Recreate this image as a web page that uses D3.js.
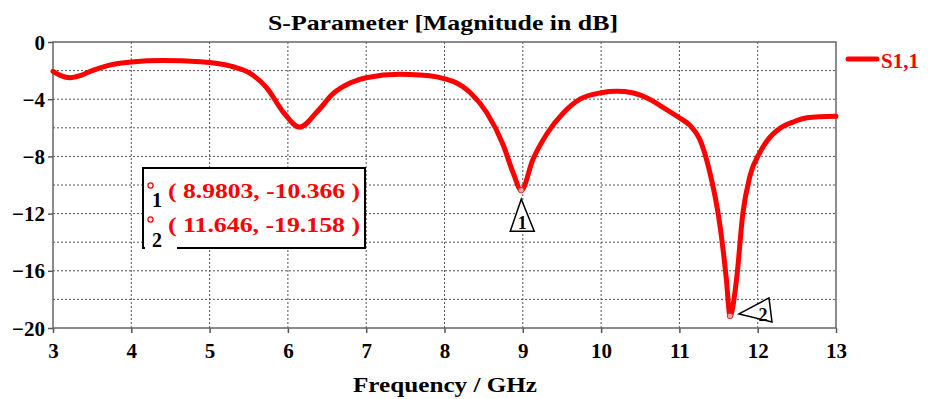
<!DOCTYPE html>
<html>
<head>
<meta charset="utf-8">
<script src="https://cdn.jsdelivr.net/npm/d3@7"></script>
<style>
  html, body { margin: 0; padding: 0; background: #fff; }
  svg { display: block; font-family: "Liberation Serif", "DejaVu Serif", serif; }
</style>
</head>
<body>
<svg id="chart" width="928" height="399"></svg>
<script>
// ---- data ----
const freq = [3.0, 3.1, 3.22, 3.35, 3.5, 3.7, 4.0, 4.4, 4.88, 5.1, 5.3, 5.52, 5.73, 5.94, 6.15, 6.37, 6.58, 6.8, 7.0, 7.43, 7.69, 8.11, 8.33, 8.54, 8.75, 8.88, 8.9803, 9.13, 9.31, 9.52, 9.73, 10.0, 10.2, 10.4, 10.58, 10.8, 11.0, 11.13, 11.26, 11.37, 11.52, 11.6, 11.646, 11.73, 11.81, 11.9, 12.03, 12.12, 12.28, 12.45, 12.63, 13.0];
const s11  = [-2.05, -2.35, -2.5, -2.35, -2.0, -1.65, -1.4, -1.3, -1.38, -1.5, -1.73, -2.2, -3.2, -4.9, -5.95, -4.9, -3.6, -2.85, -2.5, -2.26, -2.3, -2.75, -3.55, -4.95, -7.2, -9.2, -10.366, -8.2, -6.4, -4.95, -4.0, -3.55, -3.45, -3.55, -3.9, -4.6, -5.3, -5.8, -6.8, -8.7, -12.9, -16.6, -19.158, -16.6, -12.0, -9.4, -7.7, -6.9, -6.05, -5.6, -5.3, -5.2];
const xTicks = [3, 4, 5, 6, 7, 8, 9, 10, 11, 12, 13];
const yTicks = [0, -4, -8, -12, -16, -20];
const yGrid = [0, -2, -4, -6, -8, -10, -12, -14, -16, -18, -20];
const markerIds = ["1", "2"];
const markerFreq = [8.9803, 11.646];
const markerVal = [-10.366, -19.158];
const markerLabels = ["( 8.9803, -10.366 )", "( 11.646, -19.158 )"];
const seriesName = "S1,1";
const titleText = "S-Parameter [Magnitude in dB]";
const xTitle = "Frequency / GHz";

// ---- layout ----
const L = 53, R = 836, T = 42, B = 328;
const svg = d3.select("#chart");
const x = d3.scaleLinear().domain([3, 13]).range([L, R]);
const y = d3.scaleLinear().domain([-20, 0]).range([B, T]);
const red = "#ff0000";

// grid
const grid = svg.append("g").attr("stroke", "#555").attr("stroke-width", 1).attr("stroke-dasharray", "2,2");
grid.selectAll("line.v").data(xTicks.slice(1, -1)).join("line")
  .attr("x1", d => x(d)).attr("x2", d => x(d)).attr("y1", T).attr("y2", B);
grid.selectAll("line.h").data(yGrid.slice(1, -1)).join("line")
  .attr("x1", L).attr("x2", R).attr("y1", d => y(d)).attr("y2", d => y(d));

// axes
const xAxis = svg.append("g").attr("transform", `translate(0,${B})`)
  .call(d3.axisBottom(x).tickValues(xTicks).tickSize(5).tickSizeOuter(0).tickPadding(10).tickFormat(d3.format("d")));
const yAxis = svg.append("g").attr("transform", `translate(${L},0)`)
  .call(d3.axisLeft(y).tickValues(yTicks).tickSize(5).tickSizeOuter(0).tickPadding(3).tickFormat(d3.format("d")));
[xAxis, yAxis].forEach(a => {
  a.select(".domain").remove();
  a.selectAll(".tick line").attr("stroke", "#555").attr("stroke-width", 1.5);
  a.selectAll(".tick text").attr("fill", "#000").attr("font-size", 21).attr("font-weight", "bold")
    .attr("font-family", "Liberation Serif");
});
yAxis.selectAll(".tick text").attr("dy", "0.34em");

// frame
svg.append("rect").attr("x", L).attr("y", T).attr("width", R - L).attr("height", B - T)
  .attr("fill", "none").attr("stroke", "#666").attr("stroke-width", 1.5);

// curve
const line = d3.line().x((d, i) => x(freq[i])).y(d => y(d)).curve(d3.curveMonotoneX);
svg.append("path").datum(s11).attr("d", line).attr("fill", "none")
  .attr("stroke", red).attr("stroke-width", 5).attr("stroke-linejoin", "round").attr("stroke-linecap", "round");

// marker dots
svg.selectAll("circle.mk").data(markerFreq).join("circle")
  .attr("cx", d => x(d)).attr("cy", (d, i) => y(markerVal[i]))
  .attr("r", 2.8).attr("fill", "#f4a6a6").attr("stroke", "#e03030").attr("stroke-width", 1);

// marker 1 triangle (below, pointing up)
{
  const ax = x(markerFreq[0]), ay = y(markerVal[0]) + 9;
  svg.append("path").attr("d", `M${ax},${ay} L${ax - 11},${ay + 32} L${ax + 13},${ay + 32} Z`)
    .attr("fill", "#fff").attr("stroke", "#000").attr("stroke-width", 1.5);
  svg.append("text").attr("x", ax + 1).attr("y", ay + 30).attr("text-anchor", "middle")
    .attr("font-size", 18).attr("font-weight", "bold").text(markerIds[0]);
}
// marker 2 triangle (right, pointing left)
{
  const ax = x(markerFreq[1]) + 9, ay = y(markerVal[1]) - 2;
  svg.append("path").attr("d", `M${ax},${ay} L${ax + 30},${ay - 16} L${ax + 33},${ay + 8} Z`)
    .attr("fill", "#fff").attr("stroke", "#000").attr("stroke-width", 1.5);
  svg.append("text").attr("x", ax + 24).attr("y", ay + 7).attr("text-anchor", "middle")
    .attr("font-size", 18).attr("font-weight", "bold").text(markerIds[1]);
}

// marker info box
const bx = 143, by = 168, bw = 222, bh = 80;
svg.append("rect").attr("x", bx).attr("y", by).attr("width", bw).attr("height", bh)
  .attr("fill", "#fff").attr("stroke", "#000").attr("stroke-width", 2);
svg.append("rect").attr("x", bx + 2).attr("y", by + bh - 3).attr("width", 32).attr("height", 6).attr("fill", "#fff");
const rowBase = [198, 232];
markerIds.forEach((id, i) => {
  svg.append("circle").attr("cx", 150.5).attr("cy", rowBase[i] - 12.5).attr("r", 2.6)
    .attr("fill", "#fff").attr("stroke", red).attr("stroke-width", 1.2);
  svg.append("text").attr("x", 152).attr("y", rowBase[i] + 9 + (i ? 6 : 0) - (i ? 0 : 0))
    .attr("font-size", 20).attr("font-weight", "bold").attr("fill", "#000").text(id);
  svg.append("text").attr("x", 168).attr("y", rowBase[i])
    .attr("font-size", 22).attr("font-weight", "bold").attr("fill", red)
    .attr("textLength", 192).attr("lengthAdjust", "spacingAndGlyphs").text(markerLabels[i]);
});

// title
svg.append("text").attr("x", 443).attr("y", 30).attr("text-anchor", "middle")
  .attr("font-size", 22).attr("font-weight", "bold").attr("fill", "#000")
  .attr("textLength", 350).attr("lengthAdjust", "spacingAndGlyphs").text(titleText);

// x axis title
svg.append("text").attr("x", 445).attr("y", 392).attr("text-anchor", "middle")
  .attr("font-size", 22).attr("font-weight", "bold").attr("fill", "#000")
  .attr("textLength", 184).attr("lengthAdjust", "spacingAndGlyphs").text(xTitle);

// legend
svg.append("line").attr("x1", 848).attr("x2", 877).attr("y1", 59).attr("y2", 59)
  .attr("stroke", red).attr("stroke-width", 5).attr("stroke-linecap", "round");
svg.append("text").attr("x", 881).attr("y", 68).attr("font-size", 21).attr("font-weight", "bold")
  .attr("fill", red).text(seriesName);
</script>
</body>
</html>
